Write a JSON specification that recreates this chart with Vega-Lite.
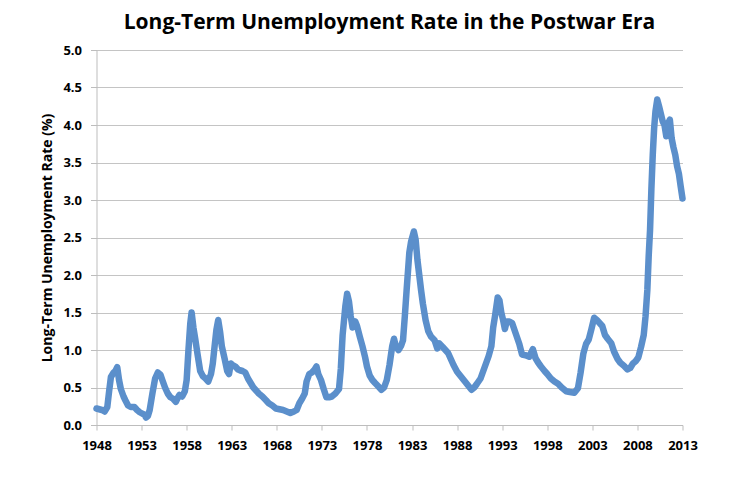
{
  "$schema": "https://vega.github.io/schema/vega-lite/v6.json",
  "width": 586,
  "height": 375,
  "autosize": {"type": "none"},
  "padding": {"left": 96.5, "top": 50, "right": 67, "bottom": 56},
  "background": "white",
  "title": {
    "text": "Long-Term Unemployment Rate in the Postwar Era",
    "fontSize": 21,
    "font": "Open Sans",
    "fontWeight": "bold",
    "color": "#000000",
    "anchor": "middle",
    "offset": 11
  },
  "config": {
    "view": {"stroke": null},
    "axis": {
      "labelFont": "Open Sans",
      "labelFontWeight": "bold",
      "labelFontSize": 13,
      "labelColor": "#000000",
      "titleFont": "Open Sans",
      "titleFontWeight": "bold",
      "titleColor": "#000000",
      "domainColor": "#bdbdbd",
      "tickColor": "#bdbdbd",
      "gridColor": "#c4c4c4"
    }
  },
  "data": {
    "values": [
      {"year": 1948.0, "rate": 0.22}, {"year": 1948.3, "rate": 0.21}, {"year": 1948.6, "rate": 0.2}, {"year": 1948.9, "rate": 0.18},
      {"year": 1949.2, "rate": 0.24}, {"year": 1949.4, "rate": 0.45}, {"year": 1949.6, "rate": 0.64}, {"year": 1949.9, "rate": 0.7},
      {"year": 1950.1, "rate": 0.72}, {"year": 1950.3, "rate": 0.77}, {"year": 1950.5, "rate": 0.6}, {"year": 1950.7, "rate": 0.48},
      {"year": 1951.0, "rate": 0.38}, {"year": 1951.2, "rate": 0.33}, {"year": 1951.5, "rate": 0.26}, {"year": 1951.8, "rate": 0.24},
      {"year": 1952.2, "rate": 0.24}, {"year": 1952.5, "rate": 0.2}, {"year": 1952.8, "rate": 0.17}, {"year": 1953.1, "rate": 0.15},
      {"year": 1953.3, "rate": 0.14}, {"year": 1953.5, "rate": 0.1}, {"year": 1953.7, "rate": 0.12}, {"year": 1953.9, "rate": 0.2},
      {"year": 1954.2, "rate": 0.42}, {"year": 1954.5, "rate": 0.62}, {"year": 1954.8, "rate": 0.7}, {"year": 1955.1, "rate": 0.67},
      {"year": 1955.3, "rate": 0.6}, {"year": 1955.6, "rate": 0.5}, {"year": 1955.9, "rate": 0.42}, {"year": 1956.2, "rate": 0.37},
      {"year": 1956.5, "rate": 0.35}, {"year": 1956.8, "rate": 0.31}, {"year": 1957.0, "rate": 0.36}, {"year": 1957.2, "rate": 0.4},
      {"year": 1957.5, "rate": 0.38}, {"year": 1957.8, "rate": 0.45}, {"year": 1958.0, "rate": 0.6}, {"year": 1958.2, "rate": 1.0},
      {"year": 1958.4, "rate": 1.35}, {"year": 1958.55, "rate": 1.5}, {"year": 1958.75, "rate": 1.3}, {"year": 1958.95, "rate": 1.15},
      {"year": 1959.2, "rate": 0.95}, {"year": 1959.5, "rate": 0.72}, {"year": 1959.8, "rate": 0.65}, {"year": 1960.1, "rate": 0.62},
      {"year": 1960.4, "rate": 0.58}, {"year": 1960.7, "rate": 0.68}, {"year": 1960.9, "rate": 0.82}, {"year": 1961.1, "rate": 1.05},
      {"year": 1961.3, "rate": 1.27}, {"year": 1961.5, "rate": 1.4}, {"year": 1961.7, "rate": 1.25}, {"year": 1961.9, "rate": 1.05},
      {"year": 1962.2, "rate": 0.89}, {"year": 1962.5, "rate": 0.72}, {"year": 1962.7, "rate": 0.68}, {"year": 1962.9, "rate": 0.82},
      {"year": 1963.1, "rate": 0.8}, {"year": 1963.4, "rate": 0.78}, {"year": 1963.7, "rate": 0.74}, {"year": 1963.9, "rate": 0.73},
      {"year": 1964.2, "rate": 0.72}, {"year": 1964.5, "rate": 0.7}, {"year": 1964.8, "rate": 0.62}, {"year": 1965.1, "rate": 0.56},
      {"year": 1965.4, "rate": 0.5}, {"year": 1965.7, "rate": 0.46}, {"year": 1966.0, "rate": 0.42}, {"year": 1966.4, "rate": 0.38},
      {"year": 1966.8, "rate": 0.33}, {"year": 1967.1, "rate": 0.29}, {"year": 1967.5, "rate": 0.26}, {"year": 1967.9, "rate": 0.22},
      {"year": 1968.3, "rate": 0.21}, {"year": 1968.7, "rate": 0.2}, {"year": 1969.1, "rate": 0.18}, {"year": 1969.5, "rate": 0.16},
      {"year": 1969.9, "rate": 0.18}, {"year": 1970.2, "rate": 0.2}, {"year": 1970.5, "rate": 0.29}, {"year": 1970.8, "rate": 0.35},
      {"year": 1971.1, "rate": 0.42}, {"year": 1971.3, "rate": 0.58}, {"year": 1971.6, "rate": 0.68}, {"year": 1971.9, "rate": 0.7},
      {"year": 1972.2, "rate": 0.74}, {"year": 1972.4, "rate": 0.78}, {"year": 1972.6, "rate": 0.68}, {"year": 1972.9, "rate": 0.6},
      {"year": 1973.2, "rate": 0.48}, {"year": 1973.5, "rate": 0.37}, {"year": 1973.8, "rate": 0.37}, {"year": 1974.1, "rate": 0.38},
      {"year": 1974.5, "rate": 0.42}, {"year": 1974.9, "rate": 0.48}, {"year": 1975.1, "rate": 0.75}, {"year": 1975.3, "rate": 1.2},
      {"year": 1975.6, "rate": 1.58}, {"year": 1975.8, "rate": 1.75}, {"year": 1976.0, "rate": 1.65}, {"year": 1976.2, "rate": 1.45},
      {"year": 1976.4, "rate": 1.3}, {"year": 1976.7, "rate": 1.38}, {"year": 1976.9, "rate": 1.32}, {"year": 1977.2, "rate": 1.18},
      {"year": 1977.5, "rate": 1.05}, {"year": 1977.8, "rate": 0.9}, {"year": 1978.0, "rate": 0.78}, {"year": 1978.3, "rate": 0.66},
      {"year": 1978.6, "rate": 0.6}, {"year": 1978.9, "rate": 0.56}, {"year": 1979.3, "rate": 0.51}, {"year": 1979.6, "rate": 0.47},
      {"year": 1979.9, "rate": 0.5}, {"year": 1980.2, "rate": 0.6}, {"year": 1980.5, "rate": 0.8}, {"year": 1980.8, "rate": 1.05},
      {"year": 1981.0, "rate": 1.15}, {"year": 1981.2, "rate": 1.05}, {"year": 1981.5, "rate": 1.0}, {"year": 1981.8, "rate": 1.06},
      {"year": 1982.0, "rate": 1.13}, {"year": 1982.2, "rate": 1.45}, {"year": 1982.4, "rate": 1.8}, {"year": 1982.7, "rate": 2.3},
      {"year": 1982.9, "rate": 2.45}, {"year": 1983.2, "rate": 2.58}, {"year": 1983.4, "rate": 2.47}, {"year": 1983.6, "rate": 2.2},
      {"year": 1983.8, "rate": 2.0}, {"year": 1984.0, "rate": 1.8}, {"year": 1984.2, "rate": 1.62}, {"year": 1984.5, "rate": 1.4},
      {"year": 1984.8, "rate": 1.25}, {"year": 1985.1, "rate": 1.18}, {"year": 1985.5, "rate": 1.13}, {"year": 1985.8, "rate": 1.02},
      {"year": 1986.0, "rate": 1.09}, {"year": 1986.4, "rate": 1.04}, {"year": 1986.7, "rate": 1.0}, {"year": 1987.0, "rate": 0.96},
      {"year": 1987.3, "rate": 0.88}, {"year": 1987.6, "rate": 0.8}, {"year": 1988.0, "rate": 0.71}, {"year": 1988.4, "rate": 0.65},
      {"year": 1988.8, "rate": 0.59}, {"year": 1989.2, "rate": 0.53}, {"year": 1989.6, "rate": 0.47}, {"year": 1989.9, "rate": 0.5},
      {"year": 1990.2, "rate": 0.55}, {"year": 1990.6, "rate": 0.62}, {"year": 1990.9, "rate": 0.72}, {"year": 1991.2, "rate": 0.82},
      {"year": 1991.5, "rate": 0.92}, {"year": 1991.8, "rate": 1.05}, {"year": 1992.0, "rate": 1.3}, {"year": 1992.2, "rate": 1.45},
      {"year": 1992.5, "rate": 1.7}, {"year": 1992.7, "rate": 1.66}, {"year": 1992.9, "rate": 1.5}, {"year": 1993.1, "rate": 1.4},
      {"year": 1993.3, "rate": 1.28}, {"year": 1993.5, "rate": 1.38}, {"year": 1993.8, "rate": 1.38}, {"year": 1994.1, "rate": 1.36},
      {"year": 1994.5, "rate": 1.22}, {"year": 1994.9, "rate": 1.08}, {"year": 1995.2, "rate": 0.94}, {"year": 1995.6, "rate": 0.93},
      {"year": 1996.0, "rate": 0.91}, {"year": 1996.4, "rate": 1.01}, {"year": 1996.7, "rate": 0.89}, {"year": 1997.0, "rate": 0.83},
      {"year": 1997.3, "rate": 0.78}, {"year": 1997.7, "rate": 0.72}, {"year": 1998.0, "rate": 0.68}, {"year": 1998.4, "rate": 0.62},
      {"year": 1998.8, "rate": 0.58}, {"year": 1999.2, "rate": 0.55}, {"year": 1999.6, "rate": 0.5}, {"year": 2000.1, "rate": 0.45},
      {"year": 2000.5, "rate": 0.44}, {"year": 2001.0, "rate": 0.43}, {"year": 2001.4, "rate": 0.49}, {"year": 2001.7, "rate": 0.7},
      {"year": 2002.0, "rate": 0.95}, {"year": 2002.3, "rate": 1.08}, {"year": 2002.6, "rate": 1.14}, {"year": 2002.9, "rate": 1.28},
      {"year": 2003.2, "rate": 1.43}, {"year": 2003.5, "rate": 1.4}, {"year": 2003.8, "rate": 1.36}, {"year": 2004.1, "rate": 1.32},
      {"year": 2004.4, "rate": 1.2}, {"year": 2004.7, "rate": 1.15}, {"year": 2005.1, "rate": 1.09}, {"year": 2005.4, "rate": 0.98},
      {"year": 2005.8, "rate": 0.88}, {"year": 2006.1, "rate": 0.83}, {"year": 2006.5, "rate": 0.79}, {"year": 2006.9, "rate": 0.74},
      {"year": 2007.2, "rate": 0.76}, {"year": 2007.5, "rate": 0.82}, {"year": 2007.8, "rate": 0.85}, {"year": 2008.1, "rate": 0.9},
      {"year": 2008.4, "rate": 1.04}, {"year": 2008.7, "rate": 1.2}, {"year": 2008.9, "rate": 1.45}, {"year": 2009.1, "rate": 1.8},
      {"year": 2009.25, "rate": 2.25}, {"year": 2009.4, "rate": 2.6}, {"year": 2009.55, "rate": 3.15}, {"year": 2009.7, "rate": 3.6},
      {"year": 2009.85, "rate": 3.95}, {"year": 2010.0, "rate": 4.18}, {"year": 2010.2, "rate": 4.34}, {"year": 2010.4, "rate": 4.25},
      {"year": 2010.6, "rate": 4.15}, {"year": 2010.8, "rate": 4.05}, {"year": 2011.0, "rate": 4.0}, {"year": 2011.2, "rate": 3.85},
      {"year": 2011.4, "rate": 4.02}, {"year": 2011.6, "rate": 4.07}, {"year": 2011.8, "rate": 3.82}, {"year": 2012.0, "rate": 3.7},
      {"year": 2012.2, "rate": 3.6}, {"year": 2012.4, "rate": 3.45}, {"year": 2012.6, "rate": 3.35}, {"year": 2012.8, "rate": 3.18},
      {"year": 2013.0, "rate": 3.02}
    ]
  },
  "mark": {
    "type": "line",
    "color": "#5b8fcb",
    "strokeWidth": 6.5,
    "strokeCap": "round",
    "strokeJoin": "round",
    "clip": false
  },
  "encoding": {
    "x": {
      "field": "year",
      "type": "quantitative",
      "scale": {"domain": [1948, 2013], "nice": false, "zero": false},
      "axis": {
        "title": null,
        "values": [1948, 1953, 1958, 1963, 1968, 1973, 1978, 1983, 1988, 1993, 1998, 2003, 2008, 2013],
        "format": "d",
        "grid": false,
        "tickSize": 5,
        "labelPadding": 9,
        "labelFlush": false
      }
    },
    "y": {
      "field": "rate",
      "type": "quantitative",
      "scale": {"domain": [0, 5], "nice": false},
      "axis": {
        "title": "Long-Term Unemployment Rate (%)",
        "titleFontSize": 14,
        "titlePadding": 8,
        "values": [0, 0.5, 1, 1.5, 2, 2.5, 3, 3.5, 4, 4.5, 5],
        "format": ".1f",
        "grid": true,
        "tickSize": 6,
        "labelPadding": 9
      }
    }
  }
}
